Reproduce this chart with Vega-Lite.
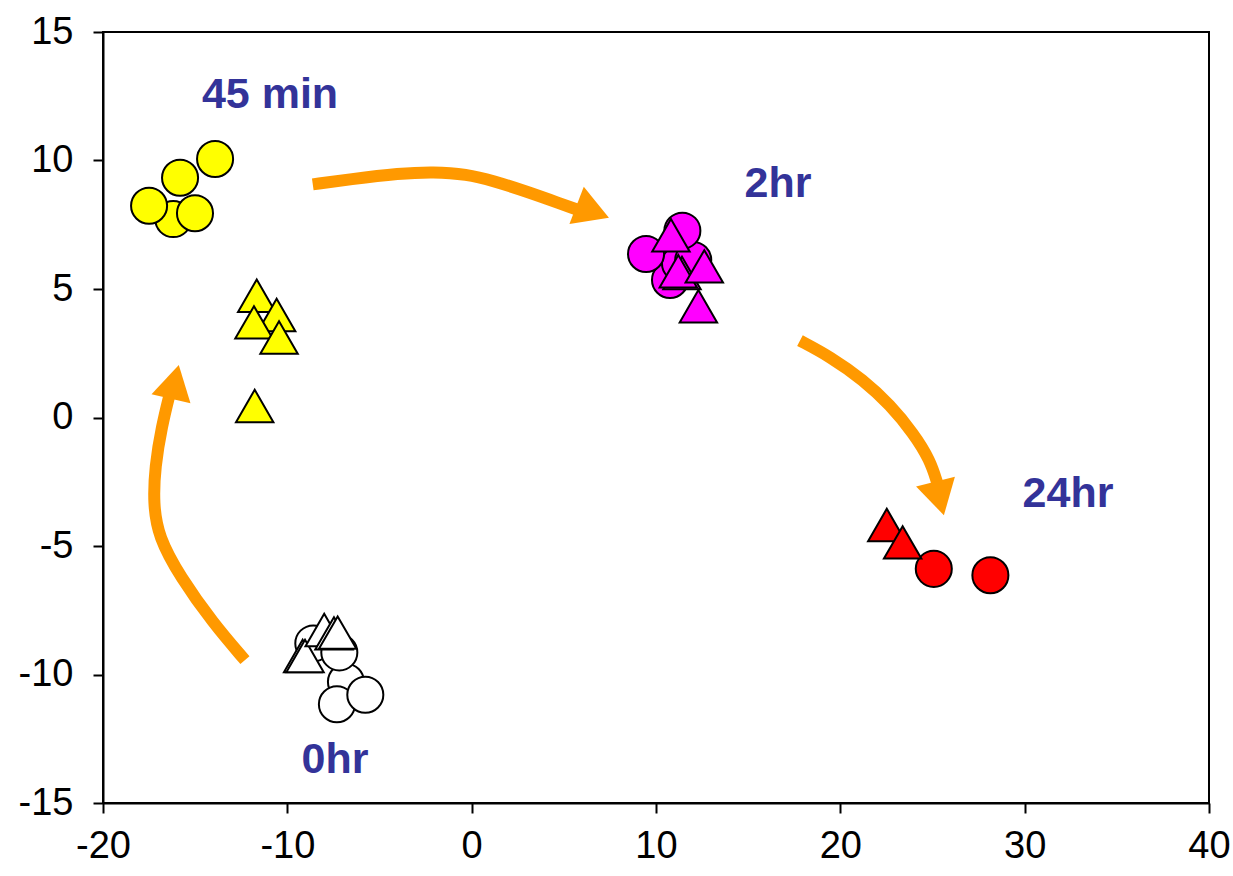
{
  "$schema": "https://vega.github.io/schema/vega-lite/v6.json",
  "width": 1106,
  "height": 771,
  "autosize": {"type": "none"},
  "padding": {"left": 103, "top": 32, "right": 24, "bottom": 73},
  "background": "white",
  "config": {
    "view": {"stroke": "black", "strokeWidth": 2},
    "axis": {
      "grid": false,
      "domainColor": "black",
      "domainWidth": 2,
      "tickColor": "black",
      "tickWidth": 2,
      "tickSize": 10,
      "labelFont": "Liberation Sans",
      "labelFontSize": 38,
      "labelColor": "black",
      "labelFlush": false,
      "labelOverlap": false,
      "title": null
    }
  },
  "datasets": {
    "points": [
      {"x": -16.19, "y": 7.72, "group": "45 min", "shape": "circle"},
      {"x": -17.5, "y": 8.24, "group": "45 min", "shape": "circle"},
      {"x": -15.01, "y": 7.95, "group": "45 min", "shape": "circle"},
      {"x": -15.82, "y": 9.33, "group": "45 min", "shape": "circle"},
      {"x": -13.92, "y": 10.06, "group": "45 min", "shape": "circle"},
      {"x": -6.82, "y": -10.28, "group": "0hr", "shape": "circle"},
      {"x": -8.59, "y": -8.79, "group": "0hr", "shape": "circle"},
      {"x": -7.18, "y": -9.14, "group": "0hr", "shape": "circle"},
      {"x": -7.31, "y": -11.16, "group": "0hr", "shape": "circle"},
      {"x": -5.77, "y": -10.79, "group": "0hr", "shape": "circle"},
      {"x": 10.76, "y": 5.35, "group": "2hr", "shape": "circle"},
      {"x": 11.3, "y": 6.0, "group": "2hr", "shape": "circle"},
      {"x": 12.02, "y": 6.13, "group": "2hr", "shape": "circle"},
      {"x": 11.43, "y": 7.27, "group": "2hr", "shape": "circle"},
      {"x": 9.46, "y": 6.36, "group": "2hr", "shape": "circle"},
      {"x": 25.07, "y": -5.89, "group": "24hr", "shape": "circle"},
      {"x": 28.14, "y": -6.14, "group": "24hr", "shape": "circle"},
      {"x": -11.66, "y": 4.74, "group": "45 min", "shape": "triangle"},
      {"x": -10.58, "y": 3.99, "group": "45 min", "shape": "triangle"},
      {"x": -11.81, "y": 3.7, "group": "45 min", "shape": "triangle"},
      {"x": -10.45, "y": 3.11, "group": "45 min", "shape": "triangle"},
      {"x": -11.77, "y": 0.45, "group": "45 min", "shape": "triangle"},
      {"x": -9.17, "y": -9.28, "group": "0hr", "shape": "triangle"},
      {"x": -9.04, "y": -9.28, "group": "0hr", "shape": "triangle"},
      {"x": -8.0, "y": -8.27, "group": "0hr", "shape": "triangle"},
      {"x": -7.47, "y": -8.4, "group": "0hr", "shape": "triangle"},
      {"x": -7.27, "y": -8.37, "group": "0hr", "shape": "triangle"},
      {"x": 10.81, "y": 7.09, "group": "2hr", "shape": "triangle"},
      {"x": 11.41, "y": 5.62, "group": "2hr", "shape": "triangle"},
      {"x": 11.21, "y": 5.69, "group": "2hr", "shape": "triangle"},
      {"x": 12.62, "y": 5.88, "group": "2hr", "shape": "triangle"},
      {"x": 12.3, "y": 4.33, "group": "2hr", "shape": "triangle"},
      {"x": 22.52, "y": -4.18, "group": "24hr", "shape": "triangle"},
      {"x": 23.38, "y": -4.86, "group": "24hr", "shape": "triangle"}
    ],
    "arrows": [
      {"arrow": "a", "seq": 1, "x": -12.3, "y": -9.44},
      {"arrow": "a", "seq": 2, "x": -14.02, "y": -8.01},
      {"arrow": "a", "seq": 3, "x": -15.82, "y": -6.19},
      {"arrow": "a", "seq": 4, "x": -17.0, "y": -4.64},
      {"arrow": "a", "seq": 5, "x": -17.27, "y": -3.34},
      {"arrow": "a", "seq": 6, "x": -17.18, "y": -1.91},
      {"arrow": "a", "seq": 7, "x": -16.82, "y": -0.36},
      {"arrow": "a", "seq": 8, "x": -16.35, "y": 1.0},
      {"arrow": "b", "seq": 1, "x": -8.62, "y": 9.07},
      {"arrow": "b", "seq": 2, "x": -6.6, "y": 9.27},
      {"arrow": "b", "seq": 3, "x": -3.89, "y": 9.5},
      {"arrow": "b", "seq": 4, "x": -2.08, "y": 9.56},
      {"arrow": "b", "seq": 5, "x": -0.27, "y": 9.47},
      {"arrow": "b", "seq": 6, "x": 1.17, "y": 9.21},
      {"arrow": "b", "seq": 7, "x": 2.99, "y": 8.79},
      {"arrow": "b", "seq": 8, "x": 4.79, "y": 8.33},
      {"arrow": "b", "seq": 9, "x": 5.8, "y": 8.07},
      {"arrow": "c", "seq": 1, "x": 17.81, "y": 2.99},
      {"arrow": "c", "seq": 2, "x": 19.44, "y": 2.37},
      {"arrow": "c", "seq": 3, "x": 21.25, "y": 1.46},
      {"arrow": "c", "seq": 4, "x": 22.7, "y": 0.49},
      {"arrow": "c", "seq": 5, "x": 23.96, "y": -0.61},
      {"arrow": "c", "seq": 6, "x": 24.87, "y": -1.65},
      {"arrow": "c", "seq": 7, "x": 25.28, "y": -2.6}
    ],
    "labels": [
      {"x": -10.94, "y": 12.04, "label": "45 min"},
      {"x": 16.62, "y": 8.58, "label": "2hr"},
      {"x": 32.35, "y": -3.48, "label": "24hr"},
      {"x": -7.41, "y": -13.83, "label": "0hr"}
    ]
  },
  "layer": [
    {
      "data": {"name": "arrows"},
      "mark": {"type": "line", "color": "#FF9900", "strokeWidth": 12, "strokeCap": "butt", "interpolate": "basis"},
      "encoding": {
        "x": {"field": "x", "type": "quantitative", "scale": {"domain": [-20, 40], "nice": false, "zero": false}, "axis": {"values": [-20, -10, 0, 10, 20, 30, 40], "labelPadding": 14, "labelExpr": "'' + datum.value"}},
        "y": {"field": "y", "type": "quantitative", "scale": {"domain": [-15, 15], "nice": false, "zero": false}, "axis": {"values": [-15, -10, -5, 0, 5, 10, 15], "labelPadding": 20, "labelExpr": "'' + datum.value"}},
        "detail": {"field": "arrow"},
        "order": {"field": "seq"}
      }
    },
    {
      "data": {"values": [{"x": -16.1, "y": 1.39}]},
      "mark": {"type": "point", "shape": "triangle-up", "filled": true, "color": "#FF9900", "size": 1600, "angle": 13, "opacity": 1},
      "encoding": {"x": {"field": "x", "type": "quantitative"}, "y": {"field": "y", "type": "quantitative"}}
    },
    {
      "data": {"values": [{"x": 6.57, "y": 8.01}]},
      "mark": {"type": "point", "shape": "triangle-up", "filled": true, "color": "#FF9900", "size": 1600, "angle": 111, "opacity": 1},
      "encoding": {"x": {"field": "x", "type": "quantitative"}, "y": {"field": "y", "type": "quantitative"}}
    },
    {
      "data": {"values": [{"x": 25.39, "y": -3.15}]},
      "mark": {"type": "point", "shape": "triangle-up", "filled": true, "color": "#FF9900", "size": 1600, "angle": 166, "opacity": 1},
      "encoding": {"x": {"field": "x", "type": "quantitative"}, "y": {"field": "y", "type": "quantitative"}}
    },
    {
      "data": {"name": "points"},
      "mark": {"type": "point", "filled": true, "opacity": 1, "stroke": "black", "strokeWidth": 2},
      "encoding": {
        "x": {"field": "x", "type": "quantitative"},
        "y": {"field": "y", "type": "quantitative"},
        "fill": {"field": "group", "type": "nominal", "scale": {"domain": ["0hr", "45 min", "2hr", "24hr"], "range": ["#FFFFFF", "#FFFF00", "#FF00FF", "#FF0000"]}, "legend": null},
        "shape": {"field": "shape", "type": "nominal", "scale": {"domain": ["circle", "triangle"], "range": ["circle", "triangle-up"]}, "legend": null},
        "size": {"field": "shape", "type": "nominal", "scale": {"domain": ["circle", "triangle"], "range": [1300, 1400]}, "legend": null}
      }
    },
    {
      "data": {"name": "labels"},
      "mark": {"type": "text", "font": "Liberation Sans", "fontWeight": "bold", "fontSize": 43, "color": "#333399", "align": "center", "baseline": "alphabetic"},
      "encoding": {
        "x": {"field": "x", "type": "quantitative"},
        "y": {"field": "y", "type": "quantitative"},
        "text": {"field": "label"}
      }
    }
  ]
}
